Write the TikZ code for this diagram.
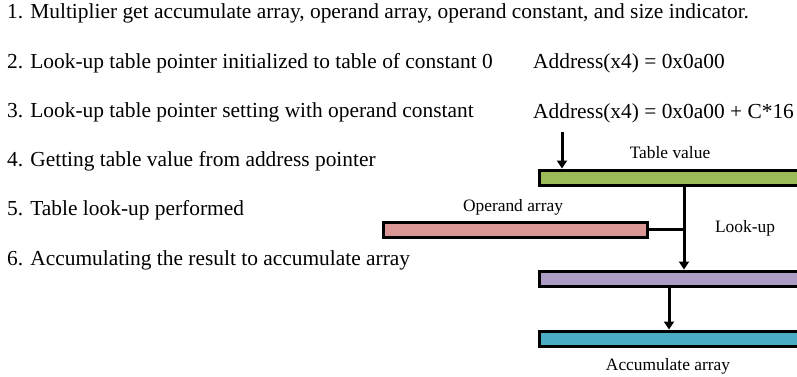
\documentclass[tikz,border=0pt]{standalone}
\usepackage{fontspec}
\setmainfont{Liberation Serif}
\usepackage{xcolor}
\usetikzlibrary{positioning,calc,arrows.meta}

\definecolor{tablegreen}{HTML}{9BBB59}
\definecolor{operandred}{HTML}{D99694}
\definecolor{resultviolet}{HTML}{AD9CC4}
\definecolor{accumcyan}{HTML}{4BACC6}

\begin{document}
\begin{tikzpicture}[x=1pt, y=-1pt,
    steptext/.style={anchor=base west, inner sep=0pt, font=\fontsize{21.4}{25}\selectfont},
    labeltext/.style={anchor=base, inner sep=0pt, font=\fontsize{17.4}{21}\selectfont},
    bar/.style={draw, line width=3.3pt, anchor=north west, minimum height=15pt, inner sep=0pt},
    arr/.style={line width=3pt, -{Triangle[width=10pt,length=8pt]}}]
        \useasboundingbox (0,0) rectangle (797,377);

        % Steps
        \foreach \t [count=\i] in {%
            {1. Multiplier get accumulate array, operand array, operand constant, and size indicator.},
            {2. Look-up table pointer initialized to table of constant 0},
            {3. Look-up table pointer setting with operand constant},
            {4. Getting table value from address pointer},
            {5. Table look-up performed},
            {6. Accumulating the result to accumulate array}}
            \node[steptext] (step\i) at (7, 19+49.2*\i-49.2) {\t};

        % Address pointer
        \node[steptext] (addr0) at (533,69) {Address(x4) = 0x0a00};
        \node[steptext] (addrC) at (533,119) {Address(x4) = 0x0a00 + C*16};

        % Arrays
        \node[bar, fill=tablegreen, minimum width=290pt] (tbl) at (537.5,168.5) {};
        \node[bar, fill=operandred, minimum width=264pt] (opd) at (381.5,220.5) {};
        \node[bar, fill=resultviolet, minimum width=290pt] (res) at (537.5,269.5) {};
        \node[bar, fill=accumcyan, minimum width=290pt] (acc) at (537.5,329.5) {};

        \node[labeltext] (tbllabel) at (670,158) {Table value};
        \node[labeltext] (opdlabel) at (513,211.5) {Operand array};
        \node[labeltext] (looklabel) at (745,232.5) {Look-up};
        \node[labeltext] (acclabel) at (668,370.5) {Accumulate array};

        % Connections
        \coordinate (ptr) at (562,132);
        \coordinate (look) at (684,0);
        \coordinate (add) at (669,0);
        \draw[arr] (ptr) -- (ptr |- tbl.north);
        \draw[arr] (look |- tbl.south) -- (look |- res.north);
        \draw[line width=3pt] (opd.east) -- (opd.east -| look);
        \draw[arr] (add |- res.south) -- (add |- acc.north);
    \end{tikzpicture}
\end{document}
